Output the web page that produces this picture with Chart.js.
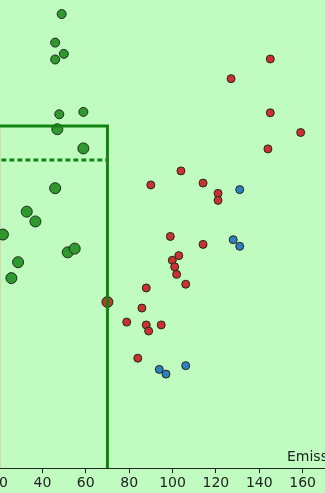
<!DOCTYPE html>
<html>
<head>
<meta charset="utf-8">
<script src="https://cdn.jsdelivr.net/npm/chart.js@4/dist/chart.umd.min.js"></script>
<style>
  html, body { margin: 0; padding: 0; }
  body { background: #c0fcc0; }
  #wrap { position: relative; width: 325px; height: 493px; overflow: hidden; background: #c0fcc0; }
  #chart { position: absolute; left: -41px; top: 0; }
</style>
</head>
<body>
<div id="wrap"><canvas id="chart" width="407" height="493"></canvas></div>
<script>
// x ticks
const xTicks = [20, 40, 60, 80, 100, 120, 140, 160, 180];

// green group, small markers
const greenSmall = [
  [48.9, 97.0], [45.9, 90.9], [49.9, 88.5], [45.9, 87.3], [47.8, 75.6], [58.9, 76.1]
];
// green group, large markers
const greenLarge = [
  [46.9, 72.4], [58.9, 68.3], [45.9, 59.8], [32.8, 54.8], [36.8, 52.7],
  [21.8, 49.9], [51.7, 46.1], [54.9, 46.9], [28.8, 44.0], [25.7, 40.6]
];
// red group
const red = [
  [145.1, 87.4], [127.0, 83.2], [145.1, 75.9], [159.1, 71.7], [144.0, 68.2],
  [103.9, 63.5], [90.0, 60.5], [114.1, 60.9], [121.0, 58.7], [121.0, 57.2],
  [99.0, 49.5], [114.1, 47.8], [102.9, 45.4], [99.9, 44.4], [101.0, 43.0],
  [101.9, 41.4], [106.1, 39.3], [87.9, 38.5], [85.9, 34.2], [78.9, 31.2],
  [87.9, 30.6], [89.0, 29.3], [94.8, 30.6], [84.0, 23.5]
];
const redLarge = [[70, 35.5]];
// blue group
const blue = [
  [131.0, 59.5], [128.0, 48.8], [131.0, 47.4], [93.9, 21.1], [97.0, 20.1], [106.1, 21.9]
];

// limits
const limitX = 70;
const limitY = 73.1;
const dashedY = 65.8;
const leftEdgeX = 20.6;

const pts = arr => arr.map(p => ({ x: p[0], y: p[1] }));

function pointSet(label, arr, fill, radius) {
  return {
    type: "scatter",
    label: label,
    data: pts(arr),
    backgroundColor: fill,
    borderColor: "#1c2a1c",
    borderWidth: 1,
    pointRadius: radius,
    pointHoverRadius: radius,
    order: 2,
    clip: false
  };
}

// axis title sits above the axis line, at the right end
const emissionsLabel = {
  id: "emissionsLabel",
  afterDraw(chart) {
    const c = chart.ctx;
    c.save();
    c.font = "14px 'DejaVu Sans'";
    c.fillStyle = "#222";
    c.textAlign = "left";
    c.textBaseline = "alphabetic";
    c.fillText("Emissions", 328, 461);
    c.restore();
  }
};

new Chart(document.getElementById("chart"), {
  data: {
    datasets: [
      {
        type: "line",
        data: [{ x: leftEdgeX, y: limitY - 0.5 }, { x: leftEdgeX, y: 0 }],
        borderColor: "#d6d8a8",
        borderWidth: 1.5,
        pointRadius: 0,
        order: 3
      },
      pointSet("Green", greenSmall, "#2f982f", 4.5),
      pointSet("Green (large)", greenLarge, "#2f982f", 5.5),
      pointSet("Red", red, "#cc3030", 4),
      pointSet("Red (large)", redLarge, "#b83a2a", 5.5),
      pointSet("Blue", blue, "#2f7fc0", 4),
      {
        type: "line",
        data: [{ x: 10, y: limitY }, { x: limitX, y: limitY }, { x: limitX, y: 0 }],
        borderColor: "#128312",
        borderWidth: 3,
        pointRadius: 0,
        fill: false,
        order: 0
      },
      {
        type: "line",
        data: [{ x: 10, y: dashedY }, { x: limitX, y: dashedY }],
        borderColor: "#128312",
        borderWidth: 3,
        borderDash: [5, 3],
        pointRadius: 0,
        fill: false,
        order: 1
      }
    ]
  },
  options: {
    responsive: false,
    animation: false,
    layout: { autoPadding: false, padding: { left: 40, right: 20, top: 0, bottom: -1 } },
    plugins: { legend: { display: false }, tooltip: { enabled: false } },
    scales: {
      x: {
        type: "linear",
        min: 20,
        max: 180,
        afterBuildTicks: axis => { axis.ticks = xTicks.map(v => ({ value: v })); },
        grid: { display: true, drawOnChartArea: false, drawTicks: true, tickLength: 5, color: "#222" },
        border: { display: true, color: "#222", width: 1 },
        ticks: {
          autoSkip: false,
          maxRotation: 0,
          padding: 2,
          color: "#222",
          font: { family: "'DejaVu Sans'", size: 14 }
        }
      },
      y: {
        type: "linear",
        min: 0,
        max: 100,
        display: false
      }
    }
  },
  plugins: [emissionsLabel]
});
</script>
</body>
</html>
